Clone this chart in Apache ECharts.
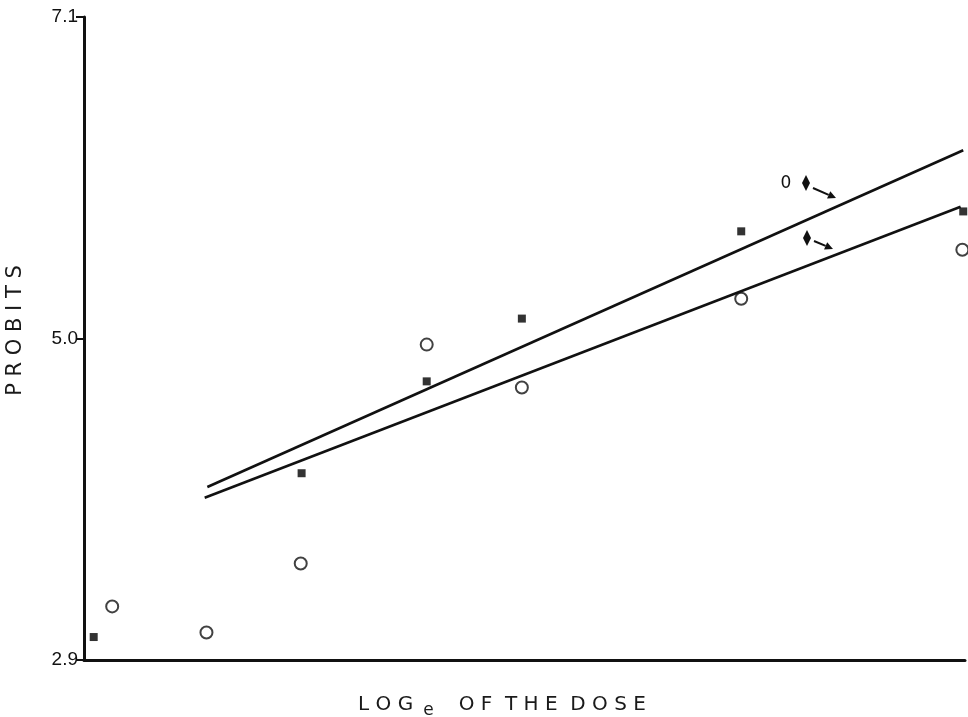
<!DOCTYPE html>
<html><head><meta charset="utf-8">
<script src="https://cdn.jsdelivr.net/npm/echarts@6/dist/echarts.min.js"></script>
<style>html,body{margin:0;padding:0;background:#fff}#c{width:968px;height:717px}</style>
</head><body><div id="c"></div>
<script>
// Tick labels of the probit axis
const yTicks = [2.9, 5.0, 7.1];
// Filled squares
const squareX = [1.1, 24.7, 38.9, 49.7, 74.6, 99.8];
const squareY = [3.05, 4.12, 4.72, 5.13, 5.70, 5.83];
// Open circles
const circleX = [3.2, 13.9, 24.6, 38.9, 49.7, 74.6, 99.7];
const circleY = [3.25, 3.08, 3.53, 4.96, 4.68, 5.26, 5.58];
// Fitted lines
const upperLineX = [14.0, 99.8];
const upperLineY = [4.03, 6.23];
const lowerLineX = [13.7, 99.5];
const lowerLineY = [3.96, 5.86];

const zip = (xs, ys) => xs.map((x, i) => [x, ys[i]]);
const INK = '#111';

const chart = echarts.init(document.getElementById('c'), null, {renderer: 'canvas'});
chart.setOption({
  backgroundColor: '#fff',
  animation: false,
  grid: {left: 84, right: 3, top: 17, bottom: 57, containLabel: false, outerBoundsMode: 'none'},
  xAxis: {
    type: 'value', min: 0, max: 100,
    axisLine: {show: true, lineStyle: {color: INK, width: 3}},
    axisTick: {show: false}, axisLabel: {show: false}, splitLine: {show: false},
    name: '{a|L O G}{s|e}{a|   O F  T H E  D O S E}',
    nameLocation: 'middle', nameGap: 30,
    nameTextStyle: {
      padding: [0, 45, 0, 0],
      rich: {
        a: {fontFamily: 'DejaVu Sans', fontSize: 20, color: '#1a1a1a'},
        s: {fontFamily: 'DejaVu Sans', fontSize: 17, color: '#1a1a1a', padding: [12, 6, 0, 10]}
      }
    }
  },
  yAxis: {
    type: 'value', min: 2.9, max: 7.1,
    axisLine: {show: true, lineStyle: {color: INK, width: 3}},
    axisTick: {show: true, customValues: yTicks, length: 8, lineStyle: {color: INK, width: 2}},
    axisLabel: {show: true, customValues: yTicks, formatter: v => v.toFixed(1),
      fontFamily: 'Liberation Sans', fontSize: 19, color: '#111', margin: 6},
    splitLine: {show: false},
    name: 'P R O B I T S', nameLocation: 'middle', nameGap: 58, nameRotate: 90,
    nameTextStyle: {fontFamily: 'DejaVu Sans', fontSize: 21, color: '#1a1a1a', padding: [0, 0, 0, 16]}
  },
  series: [
    {type: 'line', data: zip(upperLineX, upperLineY), showSymbol: false, silent: true,
      lineStyle: {color: INK, width: 2.6}},
    {type: 'line', data: zip(lowerLineX, lowerLineY), showSymbol: false, silent: true,
      lineStyle: {color: INK, width: 2.6}},
    {type: 'scatter', data: zip(squareX, squareY), symbol: 'rect', symbolSize: 8,
      itemStyle: {color: '#000'}, clip: false},
    {type: 'scatter', data: zip(circleX, circleY), symbol: 'circle', symbolSize: 12,
      itemStyle: {color: '#fff', borderColor: INK, borderWidth: 2}, clip: false}
  ]
});

// Annotation key: "0 ♦ →" and "♦ →"
function diamond(cx, cy) {
  return {type: 'polygon', shape: {points: [[cx, cy - 8], [cx + 4, cy], [cx, cy + 8], [cx - 4, cy]]},
    style: {fill: INK}};
}
function arrow(x1, y1, x2, y2) {
  const dx = x2 - x1, dy = y2 - y1, L = Math.hypot(dx, dy);
  const ux = dx / L, uy = dy / L, hl = 8, hw = 4;
  const bx = x2 - ux * hl, by = y2 - uy * hl;
  return [
    {type: 'line', shape: {x1, y1, x2: bx, y2: by}, style: {stroke: INK, lineWidth: 2}},
    {type: 'polygon', shape: {points: [[x2, y2], [bx - uy * hw, by + ux * hw], [bx + uy * hw, by - ux * hw]]},
      style: {fill: INK}}
  ];
}
chart.setOption({
  graphic: [
    {type: 'text', x: 786, y: 184, style: {text: '0', font: '17px "DejaVu Sans"', fill: INK,
      align: 'center', verticalAlign: 'middle'}},
    diamond(806, 183),
    ...arrow(813, 188, 836, 198),
    diamond(807, 238),
    ...arrow(814, 241, 833, 249)
  ]
});
</script>
</body></html>
